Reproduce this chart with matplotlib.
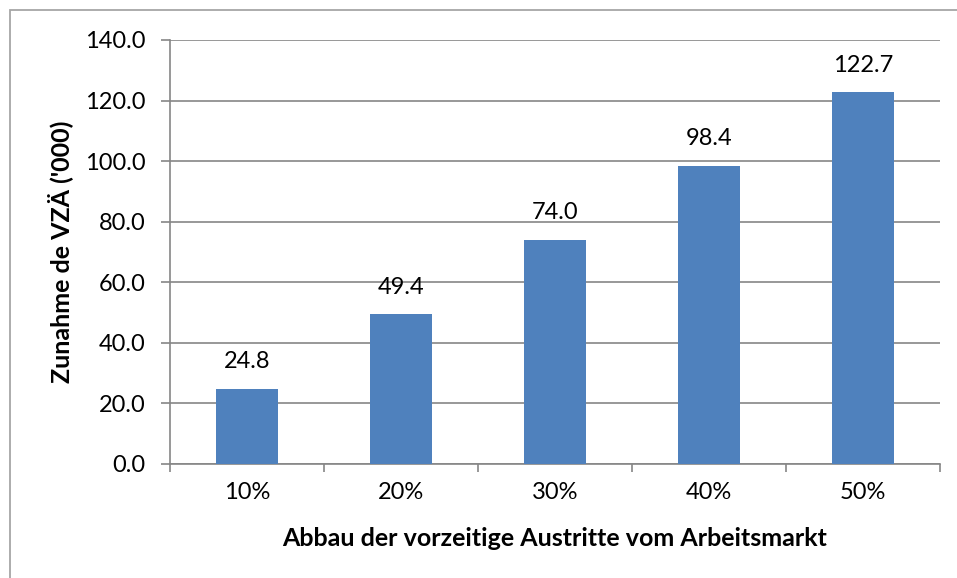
import matplotlib
matplotlib.use("Agg")
import matplotlib.pyplot as plt
from matplotlib.patches import Rectangle

categories = ["10%", "20%", "30%", "40%", "50%"]
values = [24.8, 49.4, 74.0, 98.4, 122.7]
yticks = [0, 20, 40, 60, 80, 100, 120, 140]

plt.rcParams['font.family'] = ['Lato', 'DejaVu Sans']

W, H = 957, 578
fig = plt.figure(figsize=(W / 100, H / 100), dpi=100)
fig.patch.set_facecolor('white')

# figure border (Excel chart area)
fig.add_artist(Rectangle((10 / W, -0.01), 1.02, 1 - 10 / H + 0.01, transform=fig.transFigure,
                         fill=False, edgecolor='#a6a6a6', linewidth=1.3))

ax = fig.add_axes([170 / W, 1 - 464 / H, (940 - 170) / W, (464 - 40) / H])
x = range(len(categories))
ax.bar(x, values, width=0.4, color='#4f81bd', zorder=3)
ax.set_xlim(-0.5, len(categories) - 0.5)
ax.set_ylim(0, 140)
ax.set_yticks(yticks)
ax.set_yticklabels([f"{v:.1f}" for v in yticks], fontsize=17)
ax.set_xticks(list(x))
ax.set_xticklabels(categories, fontsize=17)
ax.set_xticks([i - 0.5 for i in range(len(categories) + 1)], minor=True)
ax.tick_params(axis='x', which='major', length=0, pad=13)
ax.tick_params(axis='x', which='minor', length=6, color='#868686', width=1.2)
ax.tick_params(axis='y', length=6.5, color='#868686', width=1.2, pad=11)
ax.grid(axis='y', color='#868686', linewidth=1.2, zorder=0)
for s in ['top', 'right']:
    ax.spines[s].set_visible(False)
for s in ['left', 'bottom']:
    ax.spines[s].set_color('#868686')
    ax.spines[s].set_linewidth(1.2)

for i, v in enumerate(values):
    ax.annotate(f"{v:.1f}", (i, v), xytext=(0, 12), textcoords='offset points',
                ha='center', va='bottom', fontsize=17)

ax.set_xlabel("Abbau der vorzeitige Austritte vom Arbeitsmarkt", fontsize=18,
              fontweight='bold', labelpad=17)
ax.set_ylabel("Zunahme de VZÄ ('000)", fontsize=18, fontweight='bold', labelpad=9)

fig.savefig("out.png", dpi=100)
